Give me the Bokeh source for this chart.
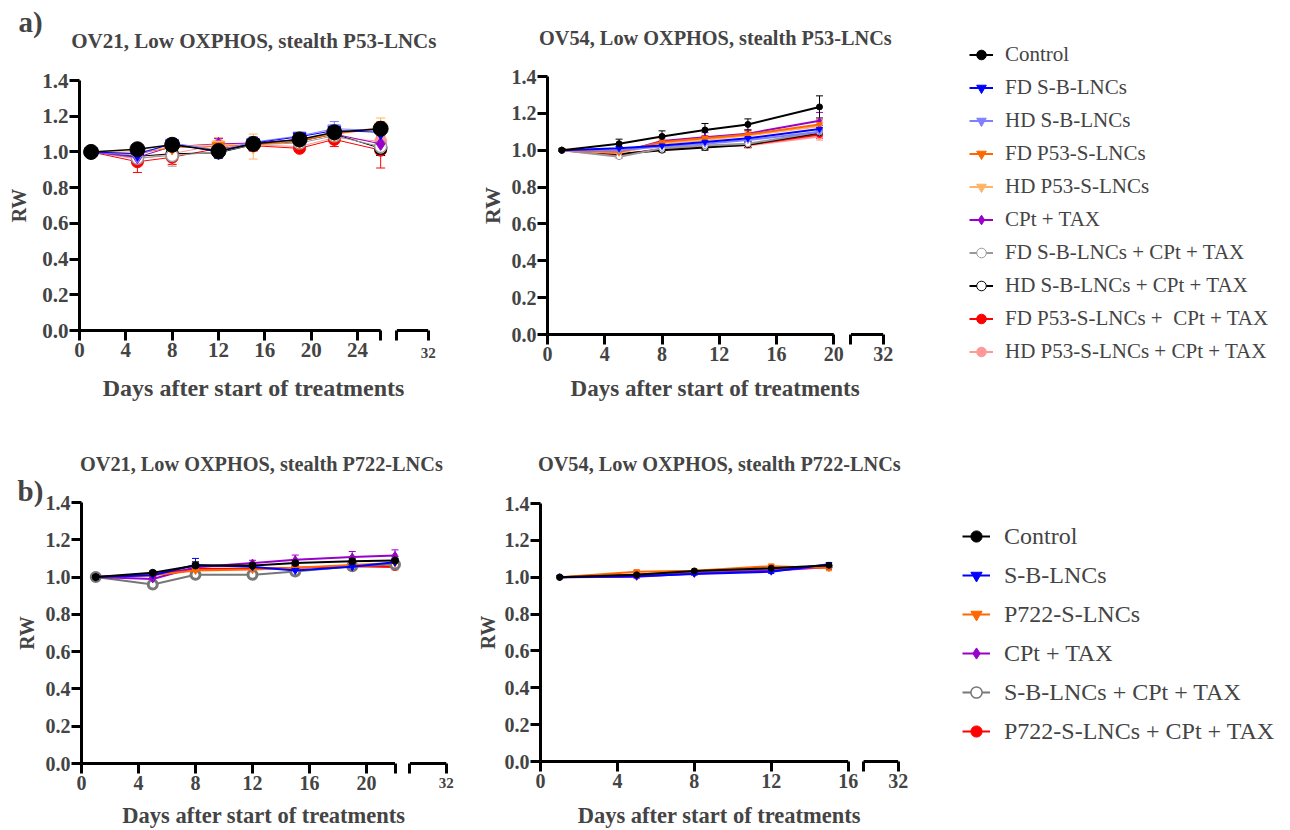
import math
from bokeh.plotting import figure
from bokeh.layouts import row, column
from bokeh.models import (ColumnDataSource, Whisker, TeeHead, Legend, LegendItem, FixedTicker,
                          CustomJSTickFormatter, PrintfTickFormatter, Label, Arrow, Range1d)
from bokeh.embed import file_html
from bokeh.resources import INLINE

FONT = "Liberation Serif"

# ---------------- data ----------------
SERIES_A = ["Control", "FD S-B-LNCs", "HD S-B-LNCs", "FD P53-S-LNCs", "HD P53-S-LNCs", "CPt + TAX",
            "FD S-B-LNCs + CPt + TAX", "HD S-B-LNCs + CPt + TAX", "FD P53-S-LNCs +  CPt + TAX",
            "HD P53-S-LNCs + CPt + TAX"]
SERIES_B = ["Control", "S-B-LNCs", "P722-S-LNCs", "CPt + TAX", "S-B-LNCs + CPt + TAX",
            "P722-S-LNCs + CPt + TAX"]

# a) OV21, stealth P53-LNCs
A21_DAYS = [1, 5, 8, 12, 15, 19, 22, 26]
A21_CONTROL = [1.00, 1.015, 1.04, 1.005, 1.045, 1.07, 1.11, 1.13]
A21_FD_SB = [1.00, 0.99, 1.045, 1.00, 1.05, 1.085, 1.12, 1.11]
A21_HD_SB = [1.00, 0.98, 1.05, 1.01, 1.055, 1.09, 1.13, 1.12]
A21_FD_P53 = [1.00, 0.99, 1.025, 1.03, 1.04, 1.06, 1.10, 1.13]
A21_HD_P53 = [1.00, 1.00, 1.03, 1.04, 1.03, 1.07, 1.10, 1.14]
A21_CPT = [1.00, 0.97, 1.03, 1.045, 1.05, 1.07, 1.10, 1.045]
A21_FD_SB_CPT = [1.00, 0.965, 0.98, 1.00, 1.04, 1.05, 1.09, 1.03]
A21_HD_SB_CPT = [1.00, 0.975, 0.99, 0.995, 1.04, 1.06, 1.10, 1.02]
A21_FD_P53_CPT = [1.00, 0.945, 0.97, 1.02, 1.035, 1.02, 1.07, 1.01]
A21_HD_P53_CPT = [1.00, 0.96, 0.99, 1.04, 1.04, 1.03, 1.08, 1.06]
A21_CONTROL_SEM = [0.01, 0.015, 0.02, 0.02, 0.02, 0.015, 0.02, 0.025]
A21_FD_SB_SEM = [0.015, 0.015, 0.03, 0.035, 0.025, 0.02, 0.03, 0.03]
A21_HD_SB_SEM = [0.01, 0.015, 0.025, 0.03, 0.03, 0.02, 0.04, 0.03]
A21_FD_P53_SEM = [0.01, 0.02, 0.02, 0.025, 0.03, 0.02, 0.03, 0.04]
A21_HD_P53_SEM = [0.01, 0.02, 0.02, 0.04, 0.07, 0.02, 0.03, 0.05]
A21_CPT_SEM = [0.01, 0.02, 0.02, 0.03, 0.03, 0.02, 0.03, 0.04]
A21_FD_SB_CPT_SEM = [0.01, 0.02, 0.06, 0.02, 0.03, 0.02, 0.03, 0.04]
A21_HD_SB_CPT_SEM = [0.01, 0.02, 0.03, 0.02, 0.03, 0.02, 0.03, 0.04]
A21_FD_P53_CPT_SEM = [0.01, 0.06, 0.04, 0.02, 0.03, 0.015, 0.04, 0.10]
A21_HD_P53_CPT_SEM = [0.01, 0.03, 0.03, 0.04, 0.03, 0.02, 0.03, 0.05]

# a) OV54, stealth P53-LNCs
A54_DAYS = [1, 5, 8, 11, 14, 19]
A54_CONTROL = [1.00, 1.035, 1.075, 1.11, 1.14, 1.235]
A54_FD_SB = [1.00, 1.01, 1.025, 1.045, 1.065, 1.115]
A54_HD_SB = [1.00, 1.00, 1.02, 1.035, 1.055, 1.10]
A54_FD_P53 = [1.00, 0.99, 1.045, 1.065, 1.085, 1.14]
A54_HD_P53 = [1.00, 0.985, 1.035, 1.055, 1.08, 1.13]
A54_CPT = [1.00, 0.985, 1.05, 1.07, 1.09, 1.16]
A54_FD_SB_CPT = [1.00, 0.965, 1.01, 1.025, 1.035, 1.10]
A54_HD_SB_CPT = [1.00, 0.98, 1.00, 1.015, 1.03, 1.095]
A54_FD_P53_CPT = [1.00, 0.975, 1.005, 1.02, 1.03, 1.085]
A54_HD_P53_CPT = [1.00, 0.97, 1.01, 1.02, 1.025, 1.075]
A54_CONTROL_SEM = [0.005, 0.025, 0.03, 0.035, 0.03, 0.06]
A54_FD_SB_SEM = [0.005, 0.01, 0.015, 0.015, 0.02, 0.02]
A54_HD_SB_SEM = [0.005, 0.01, 0.01, 0.015, 0.015, 0.02]
A54_FD_P53_SEM = [0.005, 0.01, 0.015, 0.015, 0.02, 0.025]
A54_HD_P53_SEM = [0.005, 0.01, 0.015, 0.015, 0.02, 0.025]
A54_CPT_SEM = [0.005, 0.015, 0.02, 0.025, 0.02, 0.045]
A54_FD_SB_CPT_SEM = [0.005, 0.01, 0.01, 0.015, 0.015, 0.02]
A54_HD_SB_CPT_SEM = [0.005, 0.01, 0.01, 0.015, 0.015, 0.02]
A54_FD_P53_CPT_SEM = [0.005, 0.01, 0.01, 0.015, 0.015, 0.02]
A54_HD_P53_CPT_SEM = [0.005, 0.01, 0.01, 0.015, 0.015, 0.02]

# b) OV21, stealth P722-LNCs
B21_DAYS = [1, 5, 8, 12, 15, 19, 22]
B21_CONTROL = [1.00, 1.023, 1.062, 1.062, 1.075, 1.085, 1.089]
B21_SB = [1.00, 1.01, 1.065, 1.055, 1.035, 1.055, 1.08]
B21_P722 = [1.00, 1.01, 1.035, 1.04, 1.05, 1.065, 1.075]
B21_CPT = [1.00, 0.99, 1.053, 1.075, 1.093, 1.107, 1.116]
B21_SB_CPT = [1.00, 0.96, 1.012, 1.012, 1.03, 1.058, 1.068]
B21_P722_CPT = [1.00, 1.015, 1.045, 1.045, 1.05, 1.058, 1.054]
B21_CONTROL_SEM = [0.005, 0.01, 0.02, 0.015, 0.015, 0.015, 0.02]
B21_SB_SEM = [0.005, 0.01, 0.035, 0.015, 0.02, 0.02, 0.02]
B21_P722_SEM = [0.005, 0.01, 0.01, 0.01, 0.01, 0.01, 0.01]
B21_CPT_SEM = [0.005, 0.01, 0.015, 0.015, 0.025, 0.03, 0.03]
B21_SB_CPT_SEM = [0.005, 0.01, 0.01, 0.01, 0.01, 0.01, 0.01]
B21_P722_CPT_SEM = [0.005, 0.01, 0.01, 0.01, 0.01, 0.01, 0.015]

# b) OV54, stealth P722-LNCs
B54_DAYS = [1, 5, 8, 12, 15]
B54_CONTROL = [1.00, 1.013, 1.034, 1.049, 1.065]
B54_SB = [1.00, 1.005, 1.018, 1.03, 1.07]
B54_P722 = [1.00, 1.03, 1.035, 1.06, 1.05]
B54_CPT = [1.00, 1.002, 1.02, 1.035, 1.055]
B54_SB_CPT = [1.00, 1.01, 1.025, 1.04, 1.06]
B54_P722_CPT = [1.00, 1.015, 1.03, 1.045, 1.055]
B54_CONTROL_SEM = [0.005, 0.008, 0.008, 0.01, 0.01]
B54_SB_SEM = [0.005, 0.008, 0.008, 0.01, 0.01]
B54_P722_SEM = [0.005, 0.01, 0.008, 0.012, 0.015]
B54_CPT_SEM = [0.005, 0.008, 0.008, 0.01, 0.01]
B54_SB_CPT_SEM = [0.005, 0.008, 0.008, 0.01, 0.01]
B54_P722_CPT_SEM = [0.005, 0.008, 0.008, 0.01, 0.01]

Y_TICKS = [0.0, 0.2, 0.4, 0.6, 0.8, 1.0, 1.2, 1.4]
X_LABEL = "Days after start of treatments"
Y_LABEL = "RW"

# ---------------- styles ----------------
A_COLORS = ["#000000", "#0000ff", "#8080ff", "#ff6600", "#ffb366", "#9900cc",
            "#999999", "#000000", "#ff0000", "#ff9999"]
A_FILLS = ["#000000", "#0000ff", "#8080ff", "#ff6600", "#ffb366", "#9900cc",
           "white", "white", "#ff0000", "#ff9999"]
A_MARKERS = ["circle", "inverted_triangle", "inverted_triangle", "inverted_triangle",
             "inverted_triangle", "diamond", "circle", "circle", "circle", "circle"]
B_COLORS = ["#000000", "#0000ff", "#ff6600", "#9900cc", "#777777", "#ff0000"]
B_FILLS = ["#000000", "#0000ff", "#ff6600", "#9900cc", "white", "#ff0000"]
B_MARKERS = ["circle", "inverted_triangle", "inverted_triangle", "diamond", "circle", "circle"]


def make_panel(days, values, sems, colors, fills, markers, cfg):
    # page geometry of this panel: figure box and where day 0 / RW 0 / RW 1.4 sit
    fl, ft, fw, fh = cfg["box"]
    ppd = cfg["ppd"]
    ppu = (cfg["y0_px"] - cfg["y14_px"]) / 1.4
    x_min = (fl - cfg["x0_px"]) / ppd
    x_max = x_min + fw / ppd
    y_min = -(ft + fh - cfg["y0_px"]) / ppu
    y_max = y_min + fh / ppu

    p = figure(frame_width=fw, frame_height=fh,
               min_border_left=0, min_border_right=0, min_border_top=0, min_border_bottom=0,
               x_range=Range1d(x_min, x_max), y_range=Range1d(y_min, y_max),
               output_backend="svg", toolbar_location=None, title=None)
    p.xgrid.visible = False
    p.ygrid.visible = False
    p.outline_line_color = None
    p.background_fill_color = "white"
    p.border_fill_color = "white"

    s1, s2, xe = cfg["seg1_end"], cfg["seg2_start"], cfg["x_end"]

    # y axis, fixed at day 0
    ya = p.yaxis[0]
    ya.fixed_location = 0
    ya.bounds = (0, 1.4)
    ya.ticker = FixedTicker(ticks=Y_TICKS)
    ya.formatter = PrintfTickFormatter(format="%.1f")
    ya.axis_line_width = 3
    ya.major_tick_line_width = 3
    ya.major_tick_out = 10
    ya.major_tick_in = 0
    ya.minor_tick_line_color = None
    ya.major_label_standoff = 1
    ya.major_label_text_font = FONT
    ya.major_label_text_font_style = "bold"
    ya.major_label_text_font_size = cfg["tick_fs"]

    # x axis, fixed at RW 0, with a break
    ticks = list(range(0, s1 + 1, 4))
    if s1 % 4:
        ticks.append(s1)
    ticks += [s2, xe]
    xa = p.xaxis[0]
    xa.fixed_location = 0
    xa.bounds = (0, xe)
    xa.ticker = FixedTicker(ticks=ticks)
    end_lab = cfg["end_label"] if cfg["end_big"] else ""
    xa.formatter = CustomJSTickFormatter(code=f"""
        if (Math.abs(tick - {xe}) < 1e-6) return "{end_lab}";
        if (tick <= {s1} + 1e-6 && Math.abs(tick % 4) < 1e-6) return tick.toFixed(0);
        return "";
    """)
    xa.axis_line_color = None
    xa.major_tick_line_width = 3
    xa.major_tick_out = 10
    xa.major_tick_in = 0
    xa.minor_tick_line_color = None
    xa.major_label_standoff = 2
    xa.major_label_text_font = FONT
    xa.major_label_text_font_style = "bold"
    xa.major_label_text_font_size = cfg["tick_fs"]
    for a, b in [(0, s1), (s2, xe)]:
        p.add_layout(Arrow(end=None, x_start=a, y_start=0, x_end=b, y_end=0,
                           line_width=3, line_color="black"))
    if not cfg["end_big"]:
        p.add_layout(Label(x=xe, y=0, y_offset=cfg["small_end_dy"], text=cfg["end_label"],
                           text_font=FONT, text_font_style="bold", text_font_size="15px",
                           text_align="center", text_baseline="middle"))

    # axis titles
    p.add_layout(Label(x=xe / 2, y=0, y_offset=cfg["xlab_dy"], text=X_LABEL,
                       text_font=FONT, text_font_style="bold", text_font_size=cfg["xlab_fs"],
                       text_align="center", text_baseline="middle"))
    p.add_layout(Label(x=0, y=0.7, x_offset=cfg["ylab_dx"], text=Y_LABEL, angle=math.pi / 2,
                       text_font=FONT, text_font_style="bold", text_font_size=cfg["ylab_fs"],
                       text_align="center", text_baseline="middle"))

    # panel title and tag
    p.add_layout(Label(x=xe / 2, y=1.4, y_offset=cfg["title_dy"], text=cfg["title"],
                       text_font=FONT, text_font_style="bold", text_font_size=cfg["title_fs"],
                       text_align="center", text_baseline="middle"))
    if cfg.get("tag"):
        p.add_layout(Label(x=0, y=1.4, x_offset=cfg["tag_dx"], y_offset=cfg["tag_dy"],
                           text=cfg["tag"], text_font=FONT, text_font_style="bold",
                           text_font_size="29px", text_align="center", text_baseline="middle"))

    rends = [None] * len(values)
    for i in reversed(range(len(values))):
        y = values[i]
        e = sems[i]
        src = ColumnDataSource(dict(x=days, y=y,
                                    upper=[a + b for a, b in zip(y, e)],
                                    lower=[a - b for a, b in zip(y, e)]))
        c = colors[i]
        p.add_layout(Whisker(source=src, base="x", upper="upper", lower="lower",
                             line_color=c, line_width=1,
                             upper_head=TeeHead(size=cfg["cap"], line_color=c, line_width=1),
                             lower_head=TeeHead(size=cfg["cap"], line_color=c, line_width=1)))
        lr = p.line("x", "y", source=src, line_color=c, line_width=cfg["lw"][i])
        sr = p.scatter("x", "y", source=src, marker=markers[i], size=cfg["sizes"][i],
                       fill_color=fills[i], line_color=c, line_width=cfg["mlw"][i])
        rends[i] = [lr, sr]
    return p, rends


def add_legend(p, names, rends, cfg):
    items = [LegendItem(label=n, renderers=r) for n, r in zip(names, rends)]
    leg = Legend(items=items, location=cfg["loc"], padding=0, margin=0,
                 border_line_color=None, background_fill_alpha=0,
                 glyph_width=cfg["gw"], glyph_height=cfg["gh"], label_height=cfg["gh"],
                 spacing=cfg["sp"], label_standoff=cfg["so"],
                 label_text_font=FONT, label_text_font_size=cfg["fs"])
    p.add_layout(leg)


A21_VALUES = [A21_CONTROL, A21_FD_SB, A21_HD_SB, A21_FD_P53, A21_HD_P53, A21_CPT,
              A21_FD_SB_CPT, A21_HD_SB_CPT, A21_FD_P53_CPT, A21_HD_P53_CPT]
A21_SEMS = [A21_CONTROL_SEM, A21_FD_SB_SEM, A21_HD_SB_SEM, A21_FD_P53_SEM, A21_HD_P53_SEM,
            A21_CPT_SEM, A21_FD_SB_CPT_SEM, A21_HD_SB_CPT_SEM, A21_FD_P53_CPT_SEM,
            A21_HD_P53_CPT_SEM]
A54_VALUES = [A54_CONTROL, A54_FD_SB, A54_HD_SB, A54_FD_P53, A54_HD_P53, A54_CPT,
              A54_FD_SB_CPT, A54_HD_SB_CPT, A54_FD_P53_CPT, A54_HD_P53_CPT]
A54_SEMS = [A54_CONTROL_SEM, A54_FD_SB_SEM, A54_HD_SB_SEM, A54_FD_P53_SEM, A54_HD_P53_SEM,
            A54_CPT_SEM, A54_FD_SB_CPT_SEM, A54_HD_SB_CPT_SEM, A54_FD_P53_CPT_SEM,
            A54_HD_P53_CPT_SEM]
B21_VALUES = [B21_CONTROL, B21_SB, B21_P722, B21_CPT, B21_SB_CPT, B21_P722_CPT]
B21_SEMS = [B21_CONTROL_SEM, B21_SB_SEM, B21_P722_SEM, B21_CPT_SEM, B21_SB_CPT_SEM,
            B21_P722_CPT_SEM]
B54_VALUES = [B54_CONTROL, B54_SB, B54_P722, B54_CPT, B54_SB_CPT, B54_P722_CPT]
B54_SEMS = [B54_CONTROL_SEM, B54_SB_SEM, B54_P722_SEM, B54_CPT_SEM, B54_SB_CPT_SEM,
            B54_P722_CPT_SEM]

# box = (page left, page top, width, height) of each figure
cfg1 = dict(box=(0, 0, 448, 428), x0_px=79, ppd=11.583, y0_px=330, y14_px=80,
            x_end=30.1, seg1_end=26, seg2_start=27.4,
            end_label="32", end_big=False, small_end_dy=-22, tick_fs="21px",
            ylab_fs="20px", ylab_dx=-61, xlab_fs="24px", xlab_dy=-57,
            title="OV21, Low OXPHOS, stealth P53-LNCs", title_fs="21px", title_dy=40,
            tag="a)", tag_dx=-49, tag_dy=59, cap=9,
            lw=[1.5] + [1] * 9, sizes=[15, 13, 13, 13, 13, 13, 12, 12, 12, 12],
            mlw=[1, 1, 1, 1, 1, 1, 1.5, 1.5, 1, 1])
cfg2 = dict(box=(448, 0, 842, 428), x0_px=547, ppd=14.315, y0_px=334, y14_px=76,
            x_end=23.45, seg1_end=20, seg2_start=21.2,
            end_label="32", end_big=True, tick_fs="20px",
            ylab_fs="22px", ylab_dx=-55, xlab_fs="23px", xlab_dy=-54,
            title="OV54, Low OXPHOS, stealth P53-LNCs", title_fs="20.3px", title_dy=39,
            tag=None, cap=7, lw=[2] * 10, sizes=[6] * 10, mlw=[1] * 10)
cfg3 = dict(box=(0, 428, 466, 402), x0_px=81, ppd=14.25, y0_px=763, y14_px=502,
            x_end=25.6, seg1_end=22, seg2_start=23.05,
            end_label="32", end_big=False, small_end_dy=-19, tick_fs="20px",
            ylab_fs="20px", ylab_dx=-55, xlab_fs="22.5px", xlab_dy=-52,
            title="OV21, Low  OXPHOS, stealth P722-LNCs", title_fs="20.3px", title_dy=39,
            tag="b)", tag_dx=-51, tag_dy=12, cap=7,
            lw=[2] * 6, sizes=[7, 7, 7, 8, 9, 7], mlw=[1, 1, 1, 1, 3, 1])
cfg4 = dict(box=(466, 428, 824, 402), x0_px=540, ppd=19.23, y0_px=761, y14_px=503,
            x_end=18.6, seg1_end=16, seg2_start=16.8,
            end_label="32", end_big=True, tick_fs="20px",
            ylab_fs="20px", ylab_dx=-53, xlab_fs="22.5px", xlab_dy=-54,
            title="OV54, Low OXPHOS, stealth P722-LNCs", title_fs="20.3px", title_dy=40,
            tag=None, cap=6, lw=[2] * 6, sizes=[6, 6, 6, 7, 6, 6], mlw=[1, 1, 1, 1, 1.5, 1])

p1, r1 = make_panel(A21_DAYS, A21_VALUES, A21_SEMS, A_COLORS, A_FILLS, A_MARKERS, cfg1)
p2, r2 = make_panel(A54_DAYS, A54_VALUES, A54_SEMS, A_COLORS, A_FILLS, A_MARKERS, cfg2)
p3, r3 = make_panel(B21_DAYS, B21_VALUES, B21_SEMS, B_COLORS, B_FILLS, B_MARKERS, cfg3)
p4, r4 = make_panel(B54_DAYS, B54_VALUES, B54_SEMS, B_COLORS, B_FILLS, B_MARKERS, cfg4)

# legends: (x, y) of the legend's bottom-left corner from the figure's bottom-left
LEG_A = dict(loc=(521, 63), gw=24, gh=27, sp=6, so=12, fs="21px")
LEG_B = dict(loc=(496, 85), gw=28, gh=28, sp=11, so=14, fs="24px")
add_legend(p2, SERIES_A, r2, LEG_A)
add_legend(p4, SERIES_B, r4, LEG_B)

layout = column(row(p1, p2), row(p3, p4))
open("out.html", "w").write(file_html(layout, INLINE, title="RW curves"))
